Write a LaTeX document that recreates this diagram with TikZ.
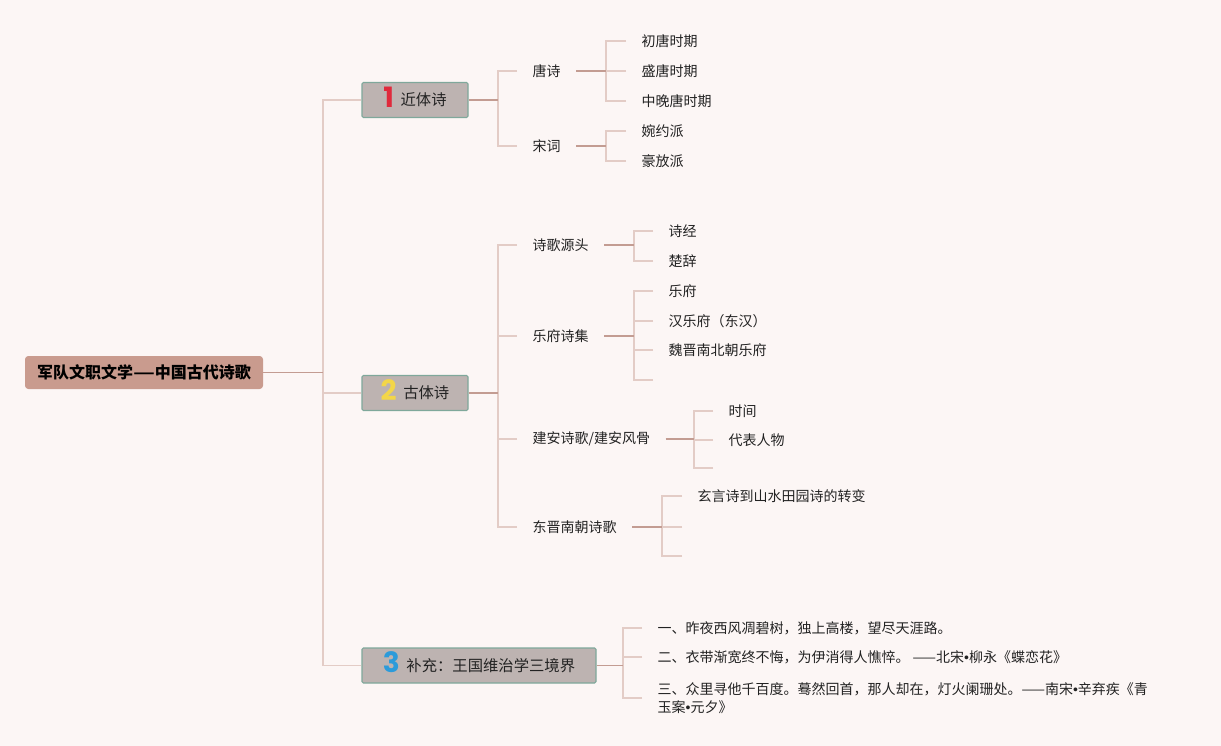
\documentclass[tikz,border=0pt]{standalone}
\usepackage{fontspec}
\setmainfont{Noto Sans CJK SC}
\newfontfamily\numfont{Poppins}
\newfontfamily\latinfont{Liberation Sans}
\definecolor{bgc}{HTML}{FCF6F5}
\definecolor{rootc}{HTML}{C99B8E}
\definecolor{boxc}{HTML}{BDB3B1}
\definecolor{boxborder}{HTML}{7FA89B}
\definecolor{trunkc}{HTML}{C39C92}
\definecolor{branchc}{HTML}{E3CCC6}
\definecolor{textc}{HTML}{222222}
\definecolor{numred}{HTML}{E02A3C}
\definecolor{numyellow}{HTML}{F3D649}
\definecolor{numblue}{HTML}{2C9BDA}
\tikzset{
  trunk/.style={draw=trunkc, line width=1.1pt},
  branch/.style={draw=branchc, line width=1pt},
  rootbox/.style={fill=rootc, rounded corners=2.5pt, minimum width=178.5pt, minimum height=24.75pt, inner sep=0pt, font=\bfseries\fontsize{12}{14}\selectfont, text=black},
  topicbox/.style={fill=boxc, draw=boxborder, line width=0.8pt, rounded corners=1pt, minimum height=26.25pt, inner sep=0pt, font=\fontsize{11.5}{13}\selectfont, text=textc},
  leaf/.style={anchor=west, inner xsep=11.5pt, inner ysep=2pt, font=\fontsize{10.5}{13.5}\selectfont, text=textc}
}
\newcommand{\numdigit}[2]{\smash{\raisebox{-1.2pt}{\numfont\bfseries\fontsize{21}{21}\selectfont\color{#1}#2}}\hspace{5pt}}
\newcommand{\sepdot}{{\latinfont •}}
\begin{document}
\begin{tikzpicture}[x=0.75pt,y=-0.75pt]
\fill[bgc] (0,0) rectangle (1221,746);
\useasboundingbox (0,0) rectangle (1221,746);

% root and topics
\node[rootbox] (root) at (144,372.5) {军队文职文学\scalebox{1.5}[1]{—}中国古代诗歌};
\node[topicbox, minimum width=79.5pt] (b1) at (415,100) {\numdigit{numred}{1}近体诗};
\node[topicbox, minimum width=79.5pt] (b2) at (415,393) {\numdigit{numyellow}{2}古体诗};
\node[topicbox, minimum width=175.5pt] (b3) at (479,665.5) {\numdigit{numblue}{3}补充：王国维治学三境界};

% level 2 (近体诗)
\node[leaf] (tang) at (517,71) {唐诗};
\node[leaf] (song) at (517,146) {宋词};
% level 3
\node[leaf] (t1) at (626,41) {初唐时期};
\node[leaf] (t2) at (626,71) {盛唐时期};
\node[leaf] (t3) at (626,101) {中晚唐时期};
\node[leaf] (s1) at (626,131) {婉约派};
\node[leaf] (s2) at (626,161) {豪放派};

% level 2 (古体诗)
\node[leaf] (yuan) at (517,245) {诗歌源头};
\node[leaf] (yf) at (517,336) {乐府诗集};
\node[leaf] (ja) at (517,439) {建安诗歌/建安风骨};
\node[leaf] (dj) at (517,527) {东晋南朝诗歌};
% level 3
\node[leaf] (y1) at (653,231) {诗经};
\node[leaf] (y2) at (653,261) {楚辞};
\node[leaf] (f1) at (653,291) {乐府};
\node[leaf] (f2) at (653,321) {汉乐府（东汉）};
\node[leaf] (f3) at (653,350) {魏晋南北朝乐府};
\coordinate (f4) at (653,380);
\node[leaf] (a1) at (713,411) {时间};
\node[leaf] (a2) at (713,440) {代表人物};
\coordinate (a3) at (713,468);
\node[leaf] (d1) at (682,496) {玄言诗到山水田园诗的转变};
\coordinate (d2) at (682,527);
\coordinate (d3) at (682,556);

% 三境界
\node[leaf] (w1) at (642,628) {一、昨夜西风凋碧树，独上高楼，望尽天涯路。};
\node[leaf] (w2) at (642,657) {二、衣带渐宽终不悔，为伊消得人憔悴。 ——北宋\sepdot 柳永《蝶恋花》};
\node[leaf, align=left] (w3) at (642,698) {三、众里寻他千百度。蓦然回首，那人却在，灯火阑珊处。——南宋\sepdot 辛弃疾《青\\玉案\sepdot 元夕》};

% junctions
\coordinate (j0) at (323,372.5);
\coordinate (j1) at (498,100);
\coordinate (j11) at (606,71);
\coordinate (j12) at (606,146);
\coordinate (j2) at (498,393);
\coordinate (j21) at (634,245);
\coordinate (j22) at (634,336);
\coordinate (j23) at (694,439);
\coordinate (j24) at (662,527);
\coordinate (j3) at (623,665.5);

% brackets
\foreach \c in {b1,b2,b3} \draw[branch] (\c.west) -| (j0);
\foreach \c in {tang,song} \draw[branch] (\c.west) -| (j1);
\foreach \c in {t1,t2,t3} \draw[branch] (\c.west) -| (j11);
\foreach \c in {s1,s2} \draw[branch] (\c.west) -| (j12);
\foreach \c in {yuan,yf,ja,dj} \draw[branch] (\c.west) -| (j2);
\foreach \c in {y1,y2} \draw[branch] (\c.west) -| (j21);
\foreach \c in {f1,f2,f3} \draw[branch] (\c.west) -| (j22);
\draw[branch] (f4) -| (j22);
\foreach \c in {a1,a2} \draw[branch] (\c.west) -| (j23);
\draw[branch] (a3) -| (j23);
\draw[branch] (d1.west) -| (j24);
\draw[branch] (d2) -| (j24);
\draw[branch] (d3) -| (j24);
\foreach \c in {w1,w2,w3} \draw[branch] (\c.west) -| (j3);

% trunks
\draw[trunk] (root.east) -- (j0);
\draw[trunk] (b1.east) -- (j1);
\draw[trunk] (tang.east) -- (j11);
\draw[trunk] (song.east) -- (j12);
\draw[trunk] (b2.east) -- (j2);
\draw[trunk] (yuan.east) -- (j21);
\draw[trunk] (yf.east) -- (j22);
\draw[trunk] (ja.east) -- (j23);
\draw[trunk] (dj.east) -- (j24);
\draw[trunk] (b3.east) -- (j3);
\end{tikzpicture}
\end{document}
